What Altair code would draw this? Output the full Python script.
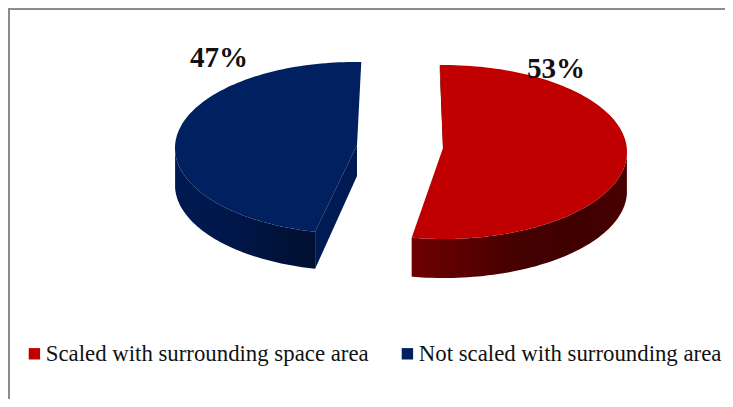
import numpy as np
import altair as alt

categories = ["Scaled with surrounding space area", "Not scaled with surrounding area"]
shares = [53, 47]
labels = ["53%", "47%"]
colors = ["#C00000", "#002060"]

W, H = 717, 391
OFF = 8
RED_C, RED_R, RED_APEX, RED_DEPTH = (443, 152), (184, 87), (443, 148), 39
BLUE_C, BLUE_R, BLUE_APEX, BLUE_DEPTH = (355, 148), (180, 86), (357, 145), 37
RED_START = -1.0
BLUE_END = 362.0


def rim(c, r, t0, t1, n=120):
    t = np.radians(np.linspace(t0, t1, n))
    return list(zip(c[0] + r[0] * np.sin(t), c[1] - r[1] * np.cos(t)))


def feature(name, pts):
    ring = [[float(x - OFF), float(H - (y - OFF))] for x, y in pts]
    ring.append(ring[0])
    return {"type": "Feature", "properties": {"name": name},
            "geometry": {"type": "Polygon", "coordinates": [ring]}}


red_sweep = shares[0] * 3.6
blue_sweep = shares[1] * 3.6
red_arc = rim(RED_C, RED_R, RED_START, RED_START + red_sweep)
blue_arc = rim(BLUE_C, BLUE_R, BLUE_END - blue_sweep, BLUE_END)

red_top = red_arc + [RED_APEX]
blue_top = blue_arc + [BLUE_APEX]


def wall(arc, depth):
    return arc + [(x, y + depth) for x, y in reversed(arc)]


red_front = [p for p in red_arc if p[1] >= RED_C[1] + 2]
blue_front = [p for p in blue_arc if p[1] >= BLUE_C[1] + 2]
blue_cut = [blue_arc[0], BLUE_APEX, (BLUE_APEX[0], BLUE_APEX[1] + BLUE_DEPTH - 6),
            (blue_arc[0][0], blue_arc[0][1] + BLUE_DEPTH)]
red_sliver = [red_arc[0], (RED_APEX[0] + 2, RED_APEX[1]), RED_APEX, (red_arc[0][0], red_arc[0][1] + 6)]


def shape(features, **kw):
    return alt.Chart(alt.Data(values=features)).mark_geoshape(strokeWidth=0, **kw).project(
        type="identity", reflectY=True, scale=1, translate=[0, H]
    )


def hgrad(stops):
    return alt.Gradient(gradient="linear", x1=0, x2=1, y1=0, y2=0,
                        stops=[alt.GradientStop(offset=o, color=c) for o, c in stops])


red_wall = shape([feature("w", wall(red_front, RED_DEPTH))],
                 fill=hgrad([(0, "#6E0000"), (0.25, "#5A0000"), (0.5, "#440000"), (0.8, "#400000"), (1, "#4A0000")]))
blue_wall = shape([feature("w", wall(blue_front, BLUE_DEPTH))],
                  fill=hgrad([(0, "#001A50"), (0.4, "#00174A"), (0.8, "#001238"), (1, "#001030")]))
blue_inner = shape([feature("c", blue_cut)], fill="#001B54")
sliver = shape([feature("s", red_sliver)], fill="#3A0000")

tops = shape([feature(categories[0], red_top), feature(categories[1], blue_top)]).encode(
    color=alt.Color(
        "properties.name:N",
        scale=alt.Scale(domain=categories, range=colors),
        legend=alt.Legend(
            title=None, orient="none", legendX=15, legendY=334, direction="horizontal",
            symbolType="square", symbolSize=130, symbolStrokeWidth=0,
            labelFont="Liberation Serif", labelFontSize=22.8, labelColor="#111111",
            columnPadding=27, labelLimit=400, labelOffset=0, columns=2,
        ),
    )
)


def label(text, x, y):
    return alt.Chart(alt.Data(values=[{"t": text}])).mark_text(
        font="Liberation Serif", fontSize=29, fontWeight="bold", color="#111111"
    ).encode(text="t:N", x=alt.value(x - OFF), y=alt.value(y - OFF))


def rule(x, x2, y, y2):
    return alt.Chart(alt.Data(values=[{"a": 1}])).mark_rule(color="#8C8C8C", strokeWidth=2).encode(
        x=alt.value(x), x2=alt.value(x2), y=alt.value(y), y2=alt.value(y2)
    )


chart = alt.layer(
    rule(0, W, 1, 1), rule(1, 1, 0, H),
    red_wall, blue_wall, blue_inner, sliver, tops,
    label(labels[0], 556, 69), label(labels[1], 219, 58),
).properties(
    width=W, height=H, padding=0, autosize=alt.AutoSizeParams(type="none")
).configure_view(stroke=None)

chart.save("out.html", embed_options={"renderer": "svg", "actions": False})
